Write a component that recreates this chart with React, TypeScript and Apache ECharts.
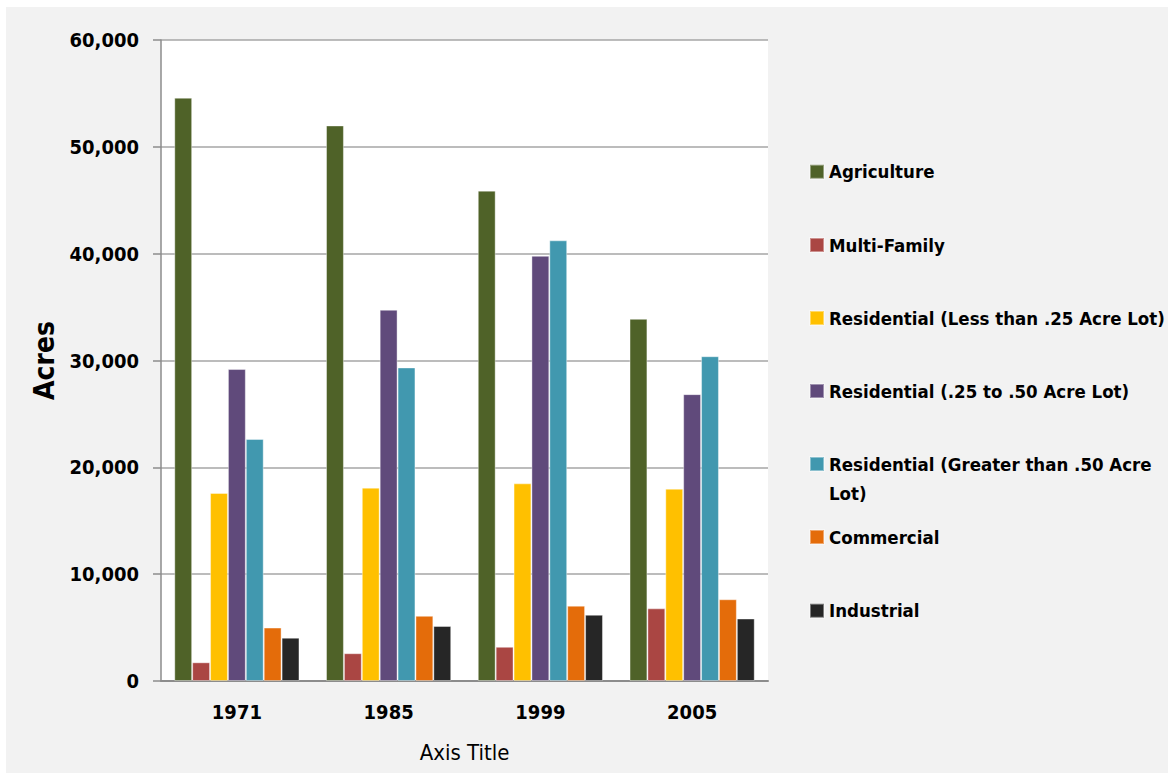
import React, { useEffect, useRef } from "react";
import * as echarts from "echarts";

// Land use by year, in acres
const years = ["1971", "1985", "1999", "2005"];

const agriculture = [54600, 52000, 45900, 33900];
const multiFamily = [1750, 2600, 3200, 6800];
const resSmall = [17600, 18100, 18500, 18000];
const resMedium = [29200, 34750, 39800, 26850];
const resLarge = [22650, 29350, 41250, 30400];
const commercial = [5000, 6100, 7050, 7650];
const industrial = [4050, 5150, 6200, 5850];

const seriesNames = [
  "Agriculture",
  "Multi-Family",
  "Residential (Less than .25 Acre Lot)",
  "Residential (.25 to .50 Acre Lot)",
  "Residential (Greater than .50 Acre Lot)",
  "Commercial",
  "Industrial",
];
const seriesValues = [agriculture, multiFamily, resSmall, resMedium, resLarge, commercial, industrial];
const seriesColors = ["#4F6228", "#AA4643", "#FFC000", "#604A7B", "#4198AF", "#E46C0A", "#262626"];

// y-axis ticks
const yMin = 0;
const yMax = 60000;
const yStep = 10000;

const BOLD_FONT = '"Liberation Sans Narrow", "DejaVu Sans Condensed", "Liberation Sans", sans-serif';
const TITLE_FONT = '"DejaVu Sans Condensed", "Liberation Sans Narrow", sans-serif';

// vertical centre of each legend entry
const legendCenters = [171.7, 245, 318, 391, 464, 537, 610.7];
const WRAPPED = "Residential (Greater than .50 Acre Lot)";

export default function App() {
  const ref = useRef<HTMLDivElement>(null);

  useEffect(() => {
    if (!ref.current) return;
    const chart = echarts.init(ref.current, undefined, { renderer: "svg" });

    const legends = seriesNames.map((name, i) => {
      const twoLine = name === WRAPPED;
      return {
        data: [name],
        left: 809,
        // the wrapped entry has an empty line above so its first line sits beside the swatch
        top: twoLine ? legendCenters[i] - 43.5 : legendCenters[i] - 12,
        orient: "vertical",
        icon: "rect",
        itemWidth: 14,
        itemHeight: 14,
        itemGap: 0,
        padding: 0,
        selectedMode: false,
        formatter: (n: string) => (n === WRAPPED ? "\nResidential (Greater than .50 Acre\nLot)" : n),
        textStyle: {
          fontFamily: BOLD_FONT,
          fontWeight: "bold",
          fontSize: 18.5,
          color: "#000",
          lineHeight: twoLine ? 29 : 24,
        },
      };
    });

    chart.setOption({
      animation: false,
      backgroundColor: "transparent",
      graphic: [
        {
          type: "rect",
          z: -100,
          silent: true,
          shape: { x: 6, y: 7, width: 1162, height: 766 },
          style: { fill: "#F2F2F2" },
        },
      ],
      grid: {
        left: 161,
        top: 40,
        right: 400,
        bottom: 94,
        show: true,
        backgroundColor: "#FFFFFF",
        borderWidth: 0,
      },
      legend: legends,
      xAxis: {
        type: "category",
        data: years,
        name: "Axis Title",
        nameLocation: "middle",
        nameGap: 60,
        nameTextStyle: { fontFamily: TITLE_FONT, fontSize: 22, color: "#000" },
        axisLine: { lineStyle: { color: "#8C8C8C", width: 2 } },
        axisTick: { show: false },
        axisLabel: {
          margin: 21,
          fontFamily: BOLD_FONT,
          fontWeight: "bold",
          fontSize: 20,
          color: "#000",
        },
      },
      yAxis: {
        type: "value",
        min: yMin,
        max: yMax,
        interval: yStep,
        name: "Acres",
        nameLocation: "middle",
        nameGap: 88,
        nameRotate: 90,
        nameTextStyle: { fontFamily: BOLD_FONT, fontWeight: "bold", fontSize: 28, color: "#000" },
        axisLine: { show: true, lineStyle: { color: "#8C8C8C", width: 1.5 } },
        axisTick: { show: true, length: 8, lineStyle: { color: "#8C8C8C", width: 1.5 } },
        splitLine: { lineStyle: { color: "#A6A6A6", width: 1.5 } },
        axisLabel: {
          margin: 22,
          fontFamily: BOLD_FONT,
          fontWeight: "bold",
          fontSize: 20,
          color: "#000",
          formatter: (v: number) => v.toLocaleString("en-US"),
        },
      },
      series: seriesNames.map((name, i) => ({
        type: "bar",
        name,
        data: seriesValues[i],
        barGap: "0%",
        barCategoryGap: "17.5%",
        itemStyle: {
          color: seriesColors[i],
          borderColor: "rgba(255,255,255,0.4)",
          borderWidth: 1,
        },
      })),
    });

    return () => chart.dispose();
  }, []);

  return (
    <div style={{ position: "fixed", left: 0, top: 0, width: 1168, height: 775, background: "#FFFFFF" }}>
      <div ref={ref} style={{ width: 1168, height: 775 }} />
    </div>
  );
}
